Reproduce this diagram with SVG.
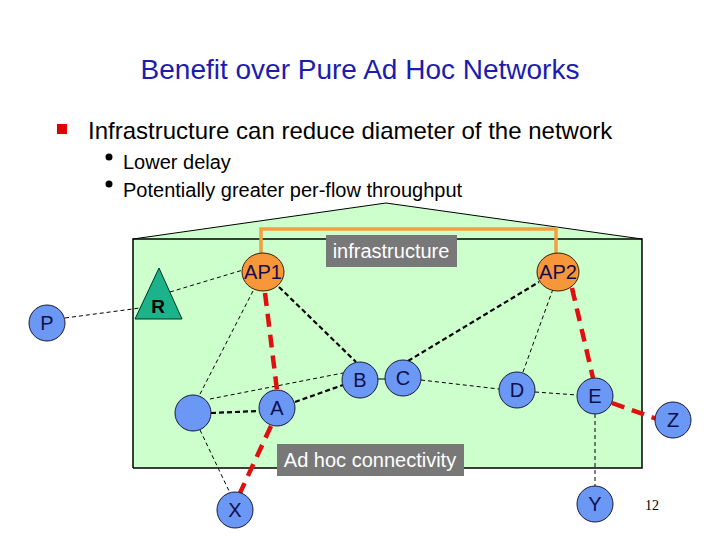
<svg xmlns="http://www.w3.org/2000/svg" width="720" height="540" viewBox="0 0 720 540">
<style>
text{font-family:"Liberation Sans",Arial,sans-serif}
.node{fill:#6b98f5;stroke:#1a1a3a;stroke-width:1}
.ap{fill:#f8963a;stroke:#3a2000;stroke-width:1}
.lbl{font-size:20px;fill:#10104a;text-anchor:middle}
.thin{stroke:#000;stroke-width:1;stroke-dasharray:4 3;fill:none}
.thick{stroke:#000;stroke-width:2.2;stroke-dasharray:5 3;fill:none}
.red{stroke:#e01010;stroke-width:4.5;stroke-dasharray:13 8;fill:none}
.box{fill:#787878}
.boxt{font-size:20px;fill:#fff}
</style>
<rect width="720" height="540" fill="#fff"/>
<text x="360" y="79" font-size="28" fill="#1c1cb0" text-anchor="middle">Benefit over Pure Ad Hoc Networks</text>
<rect x="57" y="124" width="10" height="10" fill="#e00000"/>
<text x="88" y="139" font-size="24" fill="#000">Infrastructure can reduce diameter of the network</text>
<circle cx="109" cy="157" r="3.5" fill="#000"/>
<text x="123" y="169" font-size="20" fill="#000">Lower delay</text>
<circle cx="109" cy="184" r="3.5" fill="#000"/>
<text x="123" y="197" font-size="20" fill="#000">Potentially greater per-flow throughput</text>

<g id="area">
<polygon points="133,239 386,203 642,239 642,468 133,468" fill="#ccffcc" stroke="none"/>
<polyline points="133,468 133,239 642,239 642,468 133,468" fill="none" stroke="#000" stroke-width="1.5"/>
<polyline points="133,239 386,203 642,239" fill="none" stroke="#000" stroke-width="1"/>
</g>

<g id="connectors">
<polyline points="261,258 261,229 556,229 556,258" fill="none" stroke="#f0a040" stroke-width="3.5"/>
<line class="thin" x1="65" y1="318" x2="140" y2="308"/>
<line class="thin" x1="170" y1="292" x2="243" y2="270"/>
<line class="thin" x1="253" y1="291" x2="199" y2="396"/>
<line class="thick" x1="279" y1="287" x2="356" y2="362"/>
<line class="thin" x1="210" y1="399" x2="343" y2="373"/>
<line class="thick" x1="211" y1="413" x2="259" y2="411"/>
<line class="thick" x1="295" y1="402" x2="343" y2="385"/>
<line stroke="#000" stroke-width="1" x1="378" y1="379" x2="386" y2="379"/>
<line class="thick" x1="408" y1="361" x2="539" y2="282"/>
<line class="thin" x1="421" y1="380" x2="499" y2="389"/>
<line class="thin" x1="523" y1="372" x2="553" y2="289"/>
<line class="thin" x1="535" y1="392" x2="577" y2="395"/>
<line class="thin" x1="595" y1="414" x2="595" y2="486"/>
<line class="thin" x1="200" y1="430" x2="230" y2="493"/>
<polyline class="red" points="265,293 277,390"/>
<polyline class="red" points="271,426 240,493"/>
<line class="red" x1="572" y1="288" x2="593" y2="378"/>
<line class="red" x1="612" y1="403" x2="657" y2="419"/>
</g>

<g id="AP1"><ellipse class="ap" cx="263" cy="272" rx="21" ry="19"/><text class="lbl" x="263" y="279" font-size="21">AP1</text></g>
<g id="AP2"><ellipse class="ap" cx="558" cy="272" rx="21" ry="19"/><text class="lbl" x="558" y="279" font-size="21">AP2</text></g>
<g id="R"><polygon points="159,268 135,319 182,319" fill="#1db38a" stroke="#003322" stroke-width="1"/><text x="158" y="313" font-size="19" font-weight="bold" fill="#000" text-anchor="middle">R</text></g>
<g id="P"><circle class="node" cx="47" cy="323" r="18"/><text class="lbl" x="47" y="330">P</text></g>
<g id="N"><circle class="node" cx="193" cy="413" r="18"/></g>
<g id="A"><circle class="node" cx="277" cy="408" r="18"/><text class="lbl" x="277" y="415">A</text></g>
<g id="B"><circle class="node" cx="360" cy="380" r="18"/><text class="lbl" x="360" y="387">B</text></g>
<g id="C"><circle class="node" cx="403" cy="378" r="18"/><text class="lbl" x="403" y="385">C</text></g>
<g id="D"><circle class="node" cx="517" cy="390" r="18"/><text class="lbl" x="517" y="397">D</text></g>
<g id="E"><circle class="node" cx="595" cy="396" r="18"/><text class="lbl" x="595" y="403">E</text></g>
<g id="Z"><circle class="node" cx="673" cy="420" r="18"/><text class="lbl" x="673" y="427">Z</text></g>
<g id="X"><circle class="node" cx="235" cy="510" r="18"/><text class="lbl" x="235" y="517">X</text></g>
<g id="Y"><circle class="node" cx="595" cy="504" r="18"/><text class="lbl" x="595" y="511">Y</text></g>

<g id="infra"><rect class="box" x="326" y="235" width="131" height="32"/><text class="boxt" x="391" y="258" text-anchor="middle">infrastructure</text></g>
<g id="adhoc"><rect class="box" x="277" y="444" width="187" height="32"/><text class="boxt" x="370" y="467" text-anchor="middle">Ad hoc connectivity</text></g>
<text x="652" y="510" font-size="14" fill="#000" text-anchor="middle" style="font-family:'Liberation Serif',serif">12</text>
</svg>
